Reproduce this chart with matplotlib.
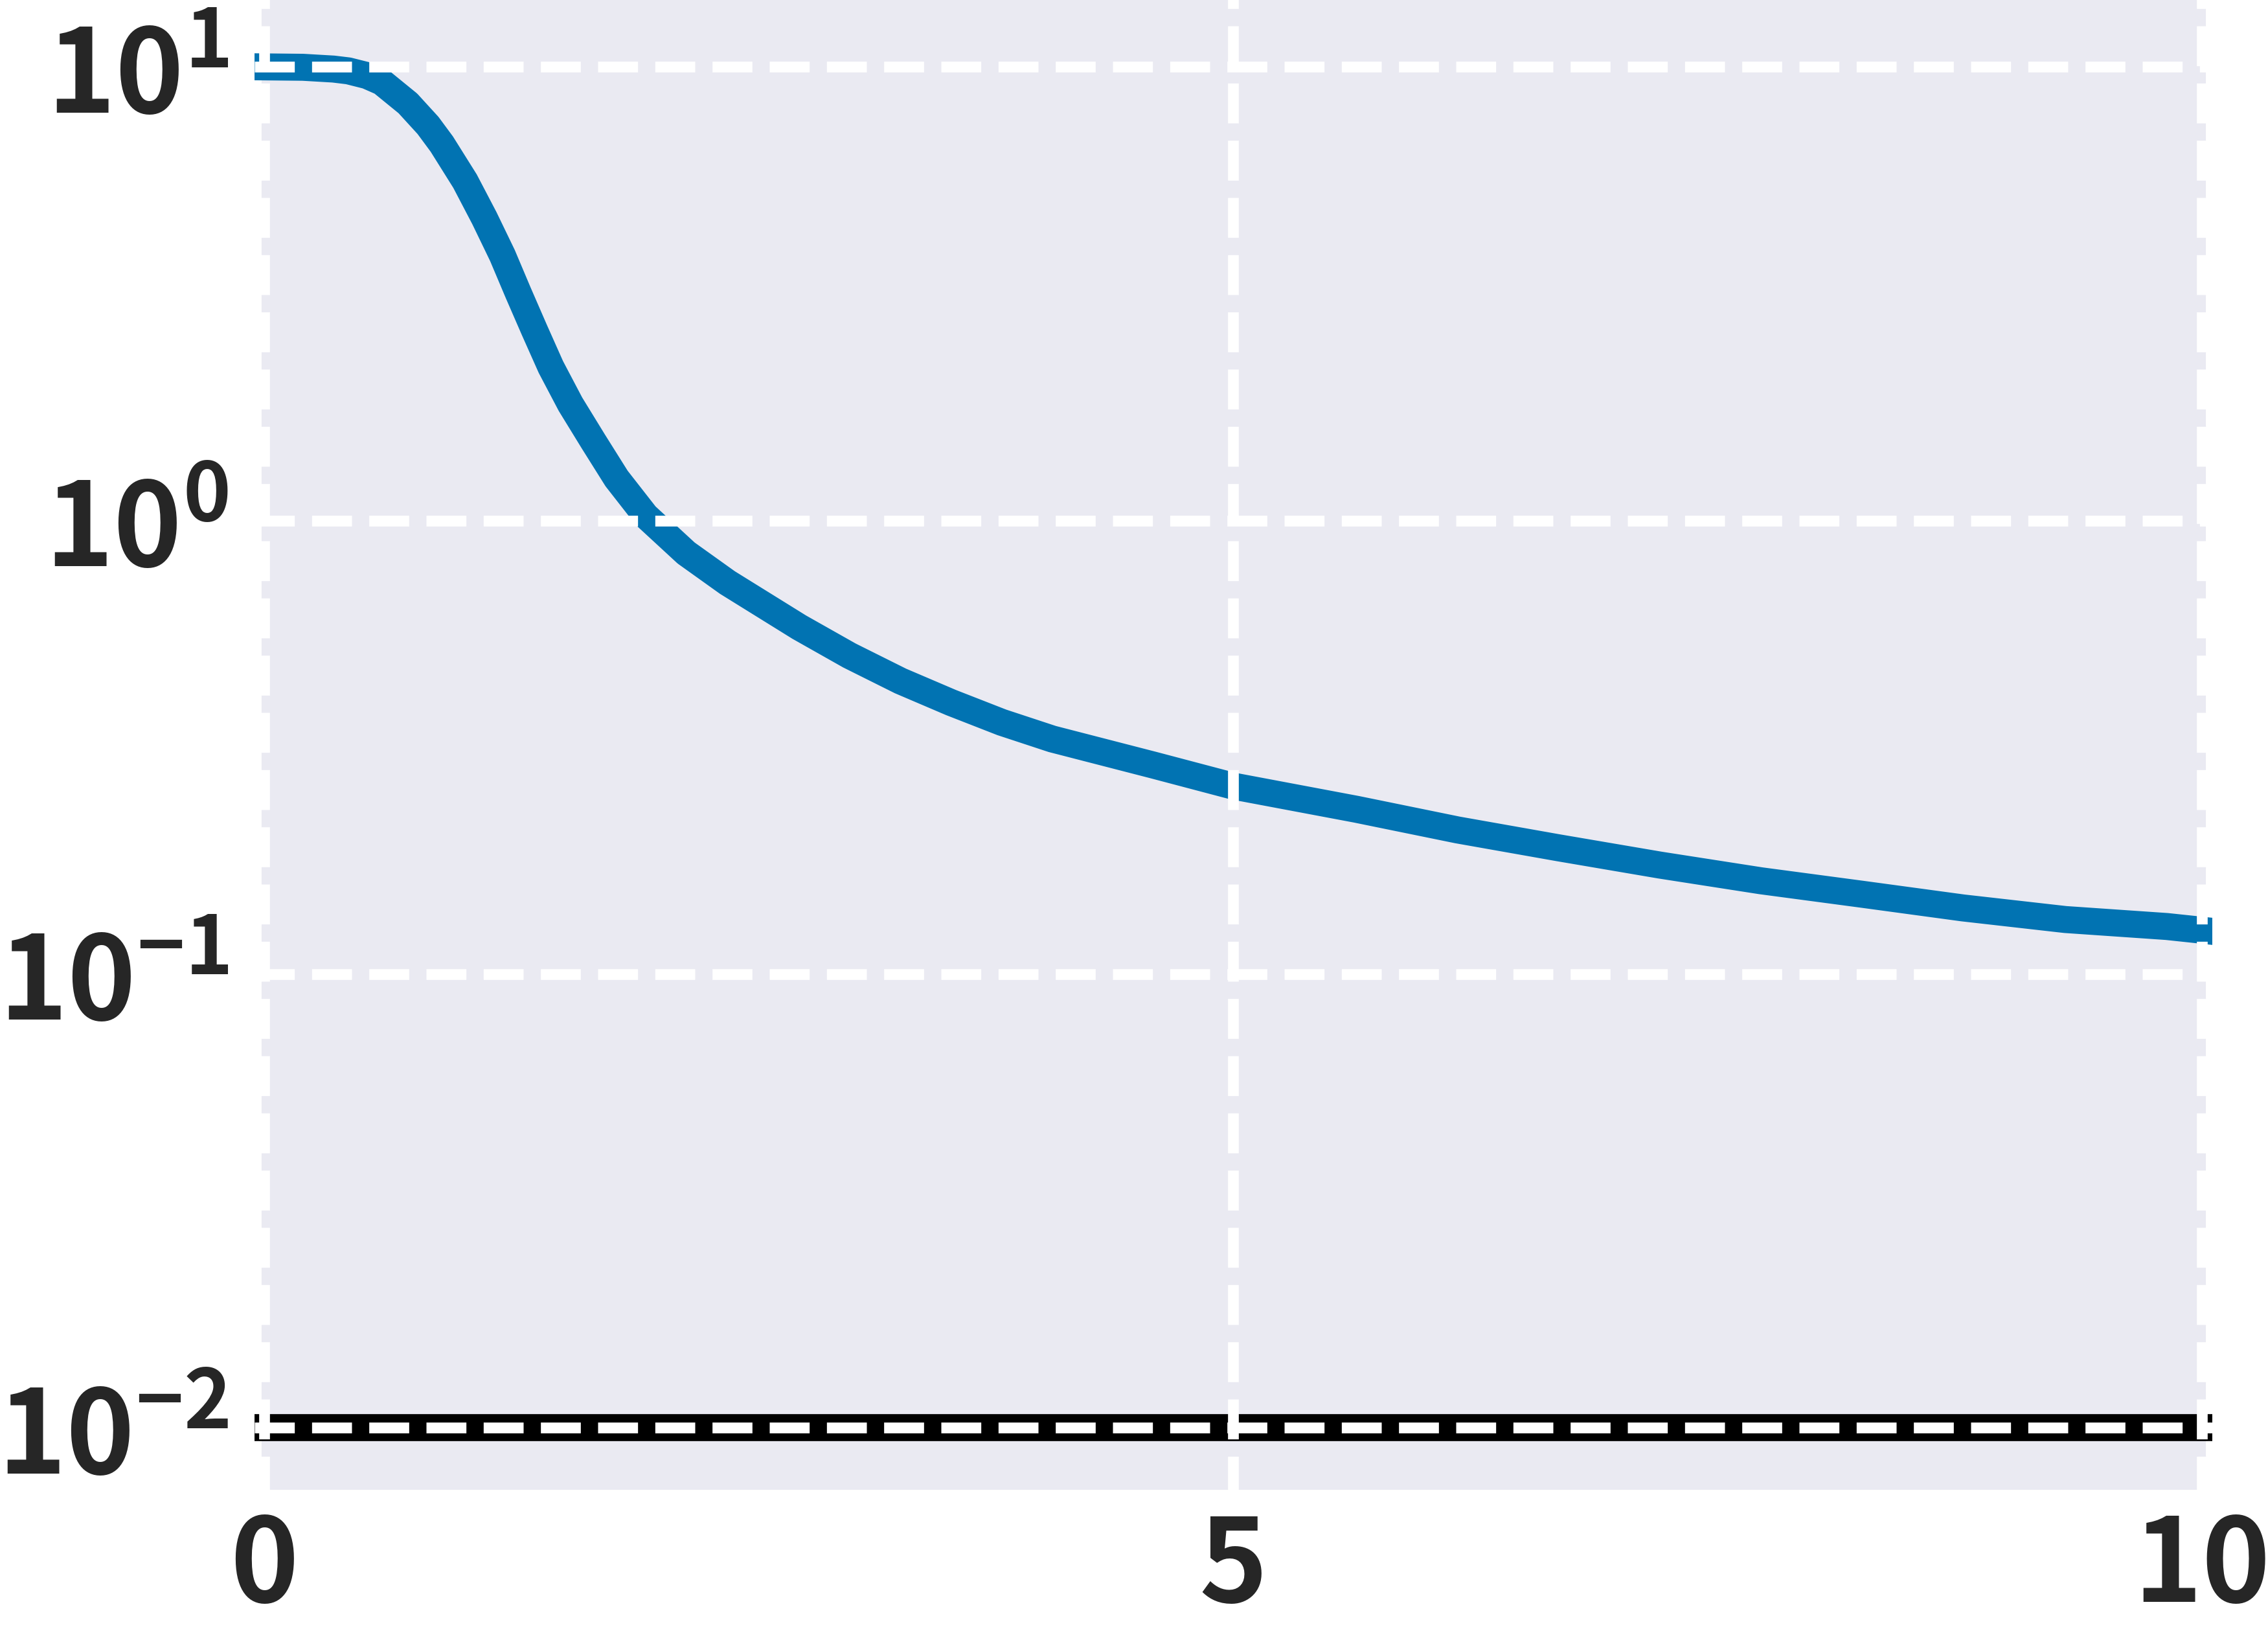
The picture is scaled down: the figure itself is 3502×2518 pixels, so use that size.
import numpy as np
import matplotlib
matplotlib.use("Agg")
import matplotlib.pyplot as plt
import seaborn as sns

# ---- data ----
x_pred = [0.0, 0.2, 0.358, 0.435, 0.531, 0.607, 0.742, 0.846, 0.917, 1.037,
          1.137, 1.230, 1.311, 1.395, 1.480, 1.581, 1.699, 1.819, 1.969, 2.178,
          2.391, 2.762, 3.021, 3.284, 3.545, 3.807, 4.067, 4.590, 4.997, 5.636,
          6.158, 6.678, 7.203, 7.723, 8.249, 8.766, 9.294, 9.818, 10.0]
y_pred = [10.0, 9.98, 9.89, 9.80, 9.57, 9.26, 8.31, 7.43, 6.76, 5.60,
          4.64, 3.84, 3.18, 2.63, 2.18, 1.805, 1.494, 1.238, 1.025, 0.848,
          0.730, 0.582, 0.504, 0.443, 0.397, 0.359, 0.330, 0.289, 0.260, 0.231,
          0.208, 0.190, 0.174, 0.1607, 0.150, 0.140, 0.132, 0.1274, 0.125]
x_ref = [0.0, 10.0]
y_ref = [0.01, 0.01]
x_ticks = [0, 5, 10]

sns.set_theme(style="darkgrid")
plt.rcParams['font.family'] = ['Noto Sans CJK JP', 'DejaVu Sans']
plt.rcParams['font.weight'] = 'bold'
plt.rcParams['axes.unicode_minus'] = True

W, H, DPI = 3502, 2518, 300
fig = plt.figure(figsize=(W / DPI, H / DPI), dpi=DPI, facecolor='white')

left = 392.5 / W
right = 3415.5 / W
top = 1 + 1.8 / H
bottom = 1 - 2309.5 / H
ax = fig.add_axes([left, bottom, right - left, top - bottom])
ax.set_facecolor('#EAEAF2')

ax.plot(x_pred, y_pred, color='#0173B2', lw=10, solid_capstyle='projecting',
        solid_joinstyle='round')
ax.plot(x_ref, y_ref, color='black', lw=10, solid_capstyle='projecting')

ax.set_yscale('log')
ax.margins(x=0.00508, y=0.05)
ax.set_xticks(x_ticks)
ax.set_xticklabels([str(t) for t in x_ticks])

ax.set_axisbelow(False)
ax.grid(True, which='major', color='white', linestyle='--', linewidth=4)
ax.grid(False, which='minor')
for s in ax.spines.values():
    s.set_color('white')
    s.set_linewidth(5)
    s.set_zorder(1.8)

ax.tick_params(axis='both', which='both', length=0, labelsize=43, colors='#262626')
ax.tick_params(axis='y', which='major', pad=9.5)
ax.tick_params(axis='x', which='major', pad=5)
for lab in ax.get_xticklabels() + ax.get_yticklabels():
    lab.set_fontweight('bold')

fig.savefig('out.png', dpi=DPI, facecolor='white')
